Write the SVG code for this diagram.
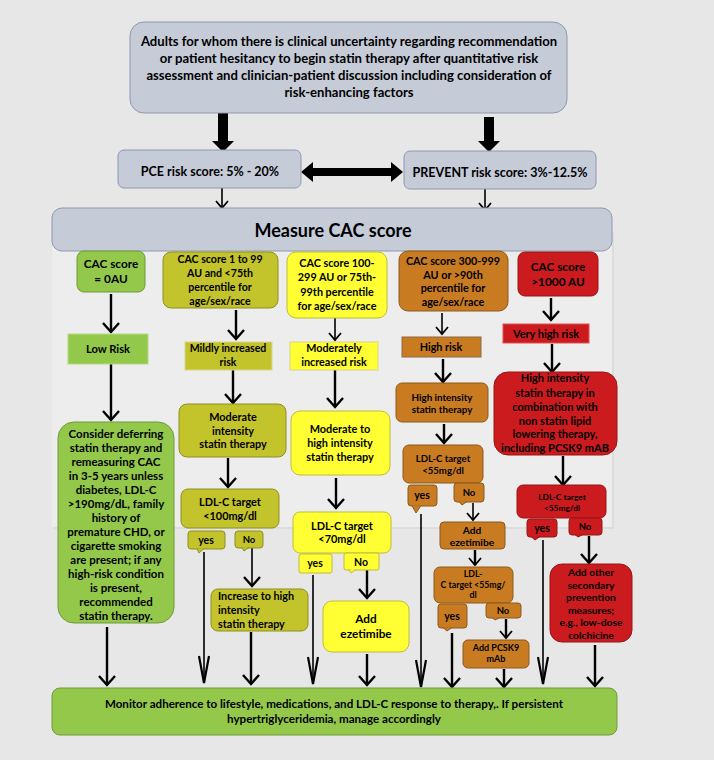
<svg xmlns="http://www.w3.org/2000/svg" width="714" height="760" viewBox="0 0 714 760">
<defs>
<style>
.t{font-family:Lato,"Open Sans",sans-serif;font-weight:bold;fill:#000;text-anchor:middle}
.l{text-anchor:start}
.gb{fill:#c6cbd8;stroke:#8f98ae;stroke-width:1}
.gr{fill:#93c84b;stroke:#6f9a3a;stroke-width:1}
.ol{fill:#c3c32b;stroke:#8f8f22;stroke-width:1}
.ye{fill:#ffff33;stroke:#bdbd3a;stroke-width:1}
.or{fill:#c97b22;stroke:#8a5a1e;stroke-width:1}
.rd{fill:#cc1b1f;stroke:#961616;stroke-width:1}
.c{fill:none;stroke:#000;stroke-width:2.4}
.cf{fill:none;stroke:#000;stroke-width:1.6}
.blk{fill:#000;stroke:none}
</style>
<marker id="v" viewBox="0 0 12 18" refX="10" refY="9" markerWidth="12" markerHeight="18" markerUnits="userSpaceOnUse" orient="auto">
<path d="M1,1 L10,9 L1,17" fill="none" stroke="#000" stroke-width="2.4"/>
</marker>
<marker id="vs" viewBox="0 0 10 14" refX="8" refY="7" markerWidth="10" markerHeight="14" markerUnits="userSpaceOnUse" orient="auto">
<path d="M1,1 L8,7 L1,13" fill="none" stroke="#000" stroke-width="1.8"/>
</marker>
<marker id="vl" viewBox="0 0 30 12" refX="28" refY="6" markerWidth="30" markerHeight="12" markerUnits="userSpaceOnUse" orient="auto">
<path d="M1,1 L28,6 L1,11" fill="none" stroke="#000" stroke-width="2.2"/>
</marker>
</defs>
<rect x="0" y="0" width="714" height="760" fill="#e7e7e7"/>
<rect x="54" y="232" width="560" height="297" fill="#dddddd"/>
<rect x="52" y="230" width="560" height="297" fill="#ededed"/>

<g id="connectors">
<polygon class="blk" points="218,113 228,113 228,141 234,141 223,152 212,141 218,141"/>
<polygon class="blk" points="484,117 494,117 494,141 500,141 489,152 478,141 484,141"/>
<polygon class="blk" points="301,172 313,162 313,168 391,168 391,162 403,172 391,182 391,176 313,176 313,182"/>
<line class="cf" x1="222" y1="188" x2="222" y2="208" marker-end="url(#vs)"/>
<line class="cf" x1="485" y1="189" x2="485" y2="210" marker-end="url(#vs)"/>
<line class="c" x1="111" y1="294" x2="111" y2="332" marker-end="url(#v)"/>
<line class="c" x1="111" y1="364" x2="111" y2="420" marker-end="url(#v)"/>
<line class="c" x1="107" y1="627" x2="107" y2="685" marker-end="url(#v)"/>
<line class="c" x1="236" y1="310" x2="236" y2="339" marker-end="url(#v)"/>
<line class="c" x1="233" y1="370" x2="233" y2="403" marker-end="url(#v)"/>
<line class="c" x1="228" y1="458" x2="228" y2="487" marker-end="url(#v)"/>
<line class="cf" x1="204" y1="552" x2="204" y2="683" marker-end="url(#vl)"/>
<line class="cf" x1="252" y1="548" x2="252" y2="586" marker-end="url(#v)"/>
<line class="c" x1="251" y1="632" x2="251" y2="684" marker-end="url(#v)"/>
<line class="cf" x1="335" y1="318" x2="335" y2="340" marker-end="url(#vs)"/>
<line class="c" x1="335" y1="370" x2="335" y2="407" marker-end="url(#v)"/>
<line class="c" x1="336" y1="478" x2="336" y2="508" marker-end="url(#v)"/>
<line class="cf" x1="313" y1="575" x2="313" y2="684" marker-end="url(#vl)"/>
<line class="c" x1="367" y1="570" x2="367" y2="598" marker-end="url(#v)"/>
<line class="c" x1="367" y1="654" x2="367" y2="685" marker-end="url(#v)"/>
<line class="cf" x1="442" y1="313" x2="442" y2="334" marker-end="url(#vs)"/>
<line class="c" x1="443" y1="359" x2="443" y2="382" marker-end="url(#v)"/>
<line class="c" x1="444" y1="424" x2="444" y2="443" marker-end="url(#v)"/>
<line class="cf" x1="421" y1="514" x2="421" y2="687" marker-end="url(#vl)"/>
<line class="cf" x1="473" y1="503" x2="473" y2="520" marker-end="url(#vs)"/>
<line class="c" x1="475" y1="550" x2="475" y2="565" marker-end="url(#vs)"/>
<line class="c" x1="452" y1="633" x2="452" y2="687" marker-end="url(#v)"/>
<line class="c" x1="506" y1="619" x2="506" y2="638" marker-end="url(#vs)"/>
<line class="c" x1="504" y1="669" x2="504" y2="687" marker-end="url(#v)"/>
<line class="c" x1="551" y1="298" x2="551" y2="320" marker-end="url(#v)"/>
<line class="c" x1="552" y1="344" x2="552" y2="372" marker-end="url(#v)"/>
<line class="c" x1="563" y1="456" x2="563" y2="485" marker-end="url(#v)"/>
<line class="cf" x1="543" y1="540" x2="543" y2="684" marker-end="url(#vl)"/>
<line class="c" x1="589" y1="536" x2="589" y2="563" marker-end="url(#v)"/>
<line class="c" x1="595" y1="645" x2="595" y2="686" marker-end="url(#v)"/>
</g>

<g id="top">
<rect class="gb" x="130" y="22" width="437" height="91" rx="14"/>
<text class="t" font-size="13.1"><tspan x="349" y="45.5">Adults for whom there is clinical uncertainty regarding recommendation</tspan><tspan x="349" y="62.5">or patient hesitancy to begin statin therapy after quantitative risk</tspan><tspan x="349" y="79.5">assessment and clinician-patient discussion including consideration of</tspan><tspan x="349" y="96.5">risk-enhancing factors</tspan></text>
</g>
<g id="pce">
<rect class="gb" x="118" y="150" width="183" height="38" rx="6"/>
<text class="t" font-size="12.5" x="210" y="175.5">PCE risk score: 5% - 20%</text>
</g>
<g id="prevent">
<rect class="gb" x="404" y="151" width="192" height="38" rx="6"/>
<text class="t" font-size="12.5" x="500" y="176.5">PREVENT risk score: 3%-12.5%</text>
</g>
<g id="measure">
<rect class="gb" x="52" y="208" width="560" height="43" rx="10"/>
<text class="t" font-size="18" x="333" y="237">Measure CAC score</text>
</g>

<g id="cac0">
<rect class="gr" x="77" y="251" width="68" height="41" rx="7"/>
<text class="t" font-size="11.8"><tspan x="111" y="268">CAC score</tspan><tspan x="111" y="283">= 0AU</tspan></text>
</g>
<g id="lowrisk">
<rect x="68" y="334" width="80" height="30" fill="#93c84b" stroke="#b5da85"/>
<text class="t" font-size="11.2" x="108" y="353">Low Risk</text>
</g>
<g id="defer">
<rect class="gr" x="58" y="422" width="116" height="201" rx="16"/>
<text class="t" font-size="11.5"><tspan x="116" y="437.5">Consider deferring</tspan><tspan x="116" y="451.5">statin therapy and</tspan><tspan x="116" y="465.5">remeasuring CAC</tspan><tspan x="116" y="479.5">in 3-5 years unless</tspan><tspan x="116" y="493.5">diabetes, LDL-C</tspan><tspan x="116" y="507.5">&gt;190mg/dL, family</tspan><tspan x="116" y="521.5">history of</tspan><tspan x="116" y="535.5">premature CHD, or</tspan><tspan x="116" y="549.5">cigarette smoking</tspan><tspan x="116" y="563.5">are present; if any</tspan><tspan x="116" y="577.5">high-risk  condition</tspan><tspan x="116" y="591.5">is present,</tspan><tspan x="116" y="605.5">recommended</tspan><tspan x="116" y="619.5">statin therapy.</tspan></text>
</g>

<g id="cac1">
<rect class="ol" x="163" y="252" width="115" height="56" rx="8"/>
<text class="t" font-size="10.6"><tspan x="220" y="263">CAC score 1 to 99</tspan><tspan x="220" y="277">AU and &lt;75th</tspan><tspan x="220" y="291">percentile for</tspan><tspan x="220" y="305">age/sex/race</tspan></text>
</g>
<g id="mild">
<rect x="185" y="342" width="87" height="28" fill="#c3c32b" stroke="#d8d890"/>
<text class="t" font-size="10.6"><tspan x="228" y="352">Mildly increased</tspan><tspan x="228" y="366">risk</tspan></text>
</g>
<g id="modstatin">
<rect class="ol" x="179" y="404" width="107" height="53" rx="8"/>
<text class="t" font-size="10.9"><tspan x="233" y="421">Moderate</tspan><tspan x="233" y="435">intensity</tspan><tspan x="233" y="448">statin therapy</tspan></text>
</g>
<g id="ldl100">
<rect class="ol" x="181" y="489" width="98" height="39" rx="7"/>
<text class="t" font-size="10.9"><tspan x="230" y="506">LDL-C target</tspan><tspan x="230" y="520">&lt;100mg/dl</tspan></text>
</g>
<g id="yes100">
<rect class="ol" x="188" y="531" width="37" height="18" rx="3"/>
<path class="ol" d="M197,548.5 L199,553 L204,548.5"/>
<text class="t" font-size="10.5" x="206" y="544">yes</text>
</g>
<g id="no100">
<rect class="ol" x="235" y="531" width="28" height="17" rx="3"/>
<path class="ol" d="M242,547.5 L244,551 L249,547.5"/>
<text class="t" font-size="9.5" x="249" y="543">No</text>
</g>
<g id="increase">
<rect class="ol" x="211" y="589" width="97" height="42" rx="7"/>
<text class="t l" font-size="10.8"><tspan x="218" y="600">Increase to high</tspan><tspan x="218" y="614">intensity</tspan><tspan x="218" y="628">statin  therapy</tspan></text>
</g>

<g id="cac100">
<rect class="ye" x="287" y="252" width="100" height="66" rx="9"/>
<text class="t" font-size="10.8"><tspan x="337" y="267">CAC score 100-</tspan><tspan x="337" y="281">299 AU or 75th-</tspan><tspan x="337" y="296">99th percentile</tspan><tspan x="337" y="310">for age/sex/race</tspan></text>
</g>
<g id="moderately">
<rect x="290" y="342" width="88" height="28" fill="#ffff33" stroke="#d6d68a"/>
<text class="t" font-size="10.8"><tspan x="334" y="352">Moderately</tspan><tspan x="334" y="366">increased risk</tspan></text>
</g>
<g id="modhigh">
<rect class="ye" x="291" y="411" width="99" height="64" rx="9"/>
<text class="t" font-size="10.9"><tspan x="340" y="433">Moderate to</tspan><tspan x="340" y="447">high intensity</tspan><tspan x="340" y="461">statin therapy</tspan></text>
</g>
<g id="ldl70">
<rect class="ye" x="293" y="512" width="98" height="41" rx="7"/>
<text class="t" font-size="10.9"><tspan x="342" y="530">LDL-C target</tspan><tspan x="342" y="543">&lt;70mg/dl</tspan></text>
</g>
<g id="yes70">
<rect class="ye" x="299" y="554" width="33" height="19" rx="2"/>
<text class="t" font-size="10.5" x="315" y="567">yes</text>
</g>
<g id="no70">
<rect class="ye" x="344" y="553" width="35" height="17" rx="2"/>
<path class="ye" d="M349,569.5 L351,573 L356,569.5"/>
<text class="t" font-size="10.5" x="361" y="566">No</text>
</g>
<g id="eze1">
<rect class="ye" x="323" y="601" width="86" height="51" rx="9"/>
<text class="t" font-size="11.8"><tspan x="366" y="623">Add</tspan><tspan x="366" y="638">ezetimibe</tspan></text>
</g>

<g id="cac300">
<rect class="or" x="399" y="251" width="109" height="60" rx="9"/>
<text class="t" font-size="10.8"><tspan x="453" y="265">CAC score 300-999</tspan><tspan x="453" y="279">AU or &gt;90th</tspan><tspan x="453" y="292">percentile for</tspan><tspan x="453" y="306">age/sex/race</tspan></text>
</g>
<g id="highrisk">
<rect x="402" y="337" width="79" height="20" fill="#c97b22" stroke="#8a6a44"/>
<text class="t" font-size="10.8" x="441" y="351">High risk</text>
</g>
<g id="histatin">
<rect class="or" x="396" y="383" width="92" height="39" rx="6"/>
<text class="t" font-size="9.8"><tspan x="442" y="401">High intensity</tspan><tspan x="442" y="413">statin therapy</tspan></text>
</g>
<g id="ldl55a">
<rect class="or" x="403" y="445" width="80" height="38" rx="6"/>
<text class="t" font-size="9.6"><tspan x="443" y="462">LDL-C target</tspan><tspan x="443" y="474">&lt;55mg/dl</tspan></text>
</g>
<g id="yes55a">
<rect class="or" x="408" y="485" width="29" height="21" rx="3"/>
<path class="or" d="M412,505.5 L416,513 L421,505.5"/>
<text class="t" font-size="10.5" x="422" y="499">yes</text>
</g>
<g id="no55a">
<rect class="or" x="454" y="483" width="30" height="19" rx="3"/>
<path class="or" d="M459,501.5 L462,505 L467,501.5"/>
<text class="t" font-size="9.5" x="469" y="496">No</text>
</g>
<g id="eze2">
<rect class="or" x="440" y="522" width="65" height="27" rx="4"/>
<text class="t" font-size="10.2"><tspan x="472" y="533.5">Add</tspan><tspan x="472" y="545.5">ezetimibe</tspan></text>
</g>
<g id="ldl55b">
<rect class="or" x="434" y="567" width="79" height="36" rx="6"/>
<text class="t" font-size="8.8"><tspan x="473" y="577">LDL-</tspan><tspan x="473" y="588">C target &lt;55mg/</tspan><tspan x="473" y="598">dl</tspan></text>
</g>
<g id="yes55b">
<rect class="or" x="438" y="604" width="29" height="24" rx="3"/>
<path class="or" d="M443,627.5 L447,631 L452,627.5"/>
<text class="t" font-size="10.5" x="452" y="620">yes</text>
</g>
<g id="no55b">
<rect class="or" x="486" y="603" width="35" height="15" rx="3"/>
<path class="or" d="M492,617.5 L495,620 L500,617.5"/>
<text class="t" font-size="9.5" x="503" y="614">No</text>
</g>
<g id="pcsk9">
<rect class="or" x="463" y="640" width="66" height="28" rx="5"/>
<text class="t" font-size="9"><tspan x="496" y="651">Add PCSK9</tspan><tspan x="496" y="662">mAb</tspan></text>
</g>

<g id="cac1000">
<rect class="rd" x="518" y="252" width="80" height="44" rx="7"/>
<text class="t" font-size="11.8"><tspan x="558" y="271">CAC score</tspan><tspan x="558" y="286">&gt;1000 AU</tspan></text>
</g>
<g id="veryhigh">
<rect x="503" y="324" width="86" height="19" fill="#cc1b1f" stroke="#e05050"/>
<text class="t" font-size="11" x="546" y="338">Very high risk</text>
</g>
<g id="combo">
<rect class="rd" x="494" y="372" width="123" height="83" rx="14"/>
<text class="t" font-size="11"><tspan x="555" y="382">High intensity</tspan><tspan x="555" y="397">statin therapy in</tspan><tspan x="555" y="411">combination with</tspan><tspan x="555" y="425">non statin lipid</tspan><tspan x="555" y="438">lowering therapy,</tspan><tspan x="555" y="452">including PCSK9 mAB</tspan></text>
</g>
<g id="ldl55c">
<rect class="rd" x="517" y="485" width="89" height="33" rx="6"/>
<text class="t" font-size="8.4"><tspan x="562" y="500">LDL-C target</tspan><tspan x="562" y="510.5">&lt;55mg/dl</tspan></text>
</g>
<g id="yes55c">
<rect class="rd" x="527" y="519" width="30" height="18" rx="3"/>
<path class="rd" d="M531,536.5 L535,540 L540,536.5"/>
<text class="t" font-size="10.5" x="542" y="532">yes</text>
</g>
<g id="no55c">
<rect class="rd" x="569" y="518" width="33" height="17" rx="3"/>
<path class="rd" d="M575,534.5 L578,537 L583,534.5"/>
<text class="t" font-size="9.5" x="585" y="530">No</text>
</g>
<g id="secondary">
<rect class="rd" x="550" y="564" width="82" height="78" rx="12"/>
<text class="t" font-size="10.3"><tspan x="591" y="576">Add other</tspan><tspan x="591" y="588.5">secondary</tspan><tspan x="591" y="601">prevention</tspan><tspan x="591" y="614">measures;</tspan><tspan x="591" y="626">e.g., low-dose</tspan><tspan x="591" y="639">colchicine</tspan></text>
</g>

<g id="monitor">
<rect class="gr" x="52" y="688" width="565" height="47" rx="8"/>
<text class="t" font-size="11.6"><tspan x="334" y="708">Monitor adherence to lifestyle, medications, and LDL-C response to therapy,. If persistent</tspan><tspan x="334" y="723">hypertriglyceridemia, manage accordingly</tspan></text>
</g>
</svg>
